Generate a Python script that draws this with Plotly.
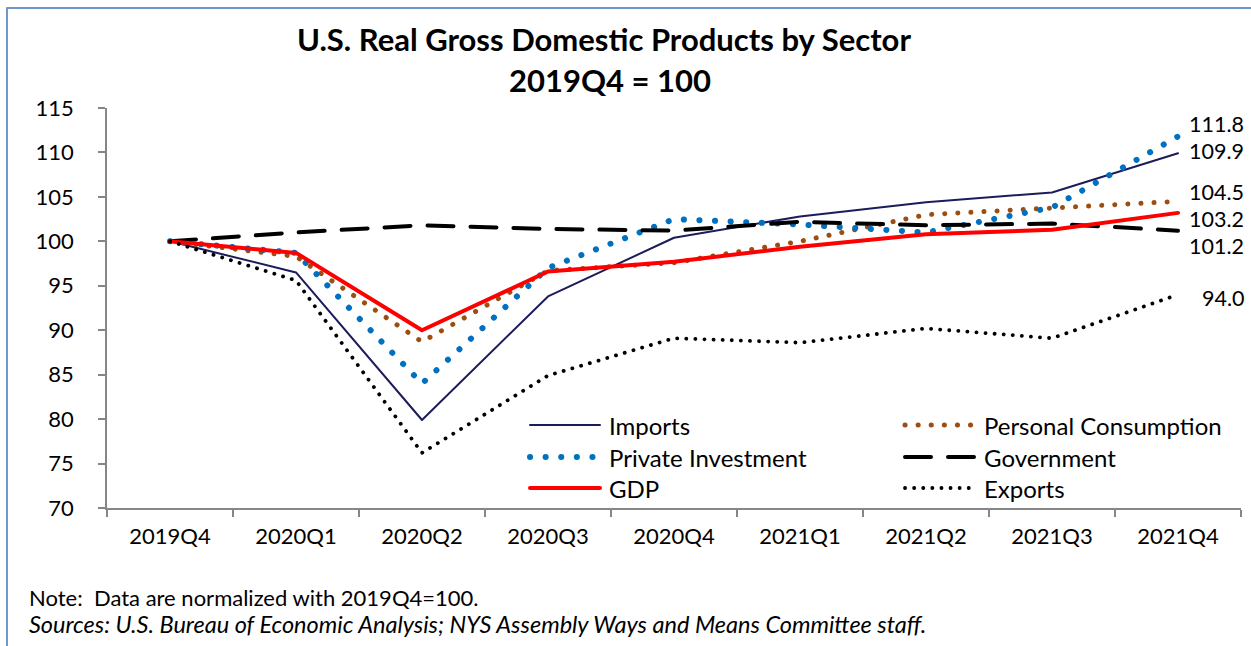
import plotly.graph_objects as go

# Quarterly index values, 2019Q4 = 100
quarters = ["2019Q4", "2020Q1", "2020Q2", "2020Q3", "2020Q4",
            "2021Q1", "2021Q2", "2021Q3", "2021Q4"]
imports = [100, 96.5, 79.9, 93.8, 100.4, 102.8, 104.4, 105.5, 109.9]
consumption = [100, 98.3, 88.7, 96.7, 97.6, 100.0, 103.0, 103.8, 104.5]
investment = [100, 98.7, 84.0, 97.0, 102.5, 101.9, 101.0, 103.8, 111.8]
government = [100, 101.0, 101.8, 101.4, 101.2, 102.2, 101.8, 102.0, 101.2]
gdp = [100, 98.7, 90.0, 96.6, 97.7, 99.4, 100.8, 101.3, 103.2]
exports = [100, 95.6, 76.2, 84.9, 89.1, 88.6, 90.2, 89.1, 94.0]

names = ["Imports", "Personal Consumption", "Private Investment",
         "Government", "GDP", "Exports"]
series = [imports, consumption, investment, government, gdp, exports]

FONT = "Lato"
W, H = 1251, 646
ML, MR, MT, MB = 107, 10, 108, 138
PW, PH = W - ML - MR, H - MT - MB

styles = [
    dict(color="#1C1C5A", width=2, dash="solid"),
    dict(color="#9C4E12", width=5, dash="0.1px,13px"),
    dict(color="#0070C0", width=6, dash="0.1px,15.5px"),
    dict(color="#000000", width=4, dash="26px,17px"),
    dict(color="#FF0000", width=4, dash="solid"),
    dict(color="#000000", width=3.8, dash="0.1px,9px"),
]
# vertical nudge (px) of the end-value labels so they don't collide
label_shift = [2, 9, 12, -15, -6, -3]


def px_x(p):
    return (p - ML) / PW


def px_y(p):
    return (H - MB - p) / PH


fig = go.Figure()
for name, vals, st in zip(names, series, styles):
    fig.add_trace(go.Scatter(
        x=quarters, y=vals, name=name, mode="lines",
        line=dict(color=st["color"], width=st["width"], dash=st["dash"]),
        showlegend=False, hoverinfo="x+y+name",
    ))

annotations = []
shapes = []

# end-of-series value labels
for vals, dy in zip(series, label_shift):
    annotations.append(dict(
        x=quarters[-1], y=vals[-1], xref="x", yref="y",
        text=f"{vals[-1]:.1f}", showarrow=False,
        xanchor="right", yanchor="middle", xshift=68, yshift=dy,
        font=dict(family=FONT, size=21.5, color="#000000"),
    ))

# two-column legend inside the plot area
leg_cols = [(530, 600, 607), (905, 975, 982)]
leg_rows = [425, 457, 488]
for i, (name, st) in enumerate(zip(names, styles)):
    x0, x1, xt = leg_cols[i % 2]
    yy = leg_rows[i // 2]
    shapes.append(dict(
        type="line", xref="paper", yref="paper",
        x0=px_x(x0), x1=px_x(x1), y0=px_y(yy), y1=px_y(yy),
        line=dict(color=st["color"], width=st["width"], dash=st["dash"]),
    ))
    annotations.append(dict(
        x=px_x(xt), y=px_y(yy), xref="paper", yref="paper",
        text=name, showarrow=False, xanchor="left", yanchor="middle",
        font=dict(family=FONT, size=24, color="#000000"),
    ))

# titles
annotations.append(dict(
    x=px_x(604), y=px_y(39), xref="paper", yref="paper",
    text="<b>U.S. Real Gross Domestic Products by Sector</b>",
    showarrow=False, xanchor="center", yanchor="middle",
    font=dict(family=FONT, size=31, color="#000000"),
))
annotations.append(dict(
    x=px_x(610), y=px_y(80), xref="paper", yref="paper",
    text="<b>2019Q4 = 100</b>",
    showarrow=False, xanchor="center", yanchor="middle",
    font=dict(family=FONT, size=31, color="#000000"),
))

# notes
annotations.append(dict(
    x=px_x(27), y=px_y(597), xref="paper", yref="paper",
    text="Note:  Data are normalized with 2019Q4=100.",
    showarrow=False, xanchor="left", yanchor="middle",
    font=dict(family=FONT, size=22, color="#000000"),
))
annotations.append(dict(
    x=px_x(27), y=px_y(624), xref="paper", yref="paper",
    text="<i>Sources: U.S. Bureau of Economic Analysis; NYS Assembly Ways and Means Committee staff.</i>",
    showarrow=False, xanchor="left", yanchor="middle",
    font=dict(family=FONT, size=23.5, color="#000000"),
))

# outer frame
shapes.append(dict(
    type="rect", xref="paper", yref="paper",
    x0=px_x(7), x1=px_x(1270), y0=px_y(670), y1=px_y(8),
    line=dict(color="#7096CF", width=2), layer="below",
))

axis_grey = "#868686"
fig.update_layout(
    width=W, height=H,
    margin=dict(l=ML, r=MR, t=MT, b=MB, pad=0),
    paper_bgcolor="#FFFFFF", plot_bgcolor="#FFFFFF",
    font=dict(family=FONT, size=22, color="#000000"),
    showlegend=False,
    annotations=annotations,
    shapes=shapes,
    xaxis=dict(
        type="category", categoryorder="array", categoryarray=quarters,
        range=[-0.5, len(quarters) - 0.5],
        tickson="boundaries", ticks="outside", ticklen=7, tickwidth=1.5,
        tickcolor=axis_grey, showline=True, linecolor=axis_grey, linewidth=1.5,
        showgrid=False, zeroline=False, ticklabelstandoff=8,
        tickfont=dict(family=FONT, size=22, color="#000000"),
    ),
    yaxis=dict(
        range=[70, 115], dtick=5, tick0=70,
        ticks="outside", ticklen=7, tickwidth=1.5, tickcolor=axis_grey,
        showline=True, linecolor=axis_grey, linewidth=1.5,
        showgrid=False, zeroline=False, ticklabelstandoff=20,
        tickfont=dict(family=FONT, size=22, color="#000000"),
    ),
)

# round caps turn the short dashes into round dots
post = """
var gd = document.getElementById('{plot_id}');
function roundCaps(){
  gd.querySelectorAll('path.js-line, .shapelayer path').forEach(function(p){
    p.style.strokeLinecap = 'round';
    p.style.strokeLinejoin = 'round';
  });
}
roundCaps();
gd.on('plotly_afterplot', roundCaps);
"""

fig.write_html("out.html", post_script=post, config={"displayModeBar": False})
